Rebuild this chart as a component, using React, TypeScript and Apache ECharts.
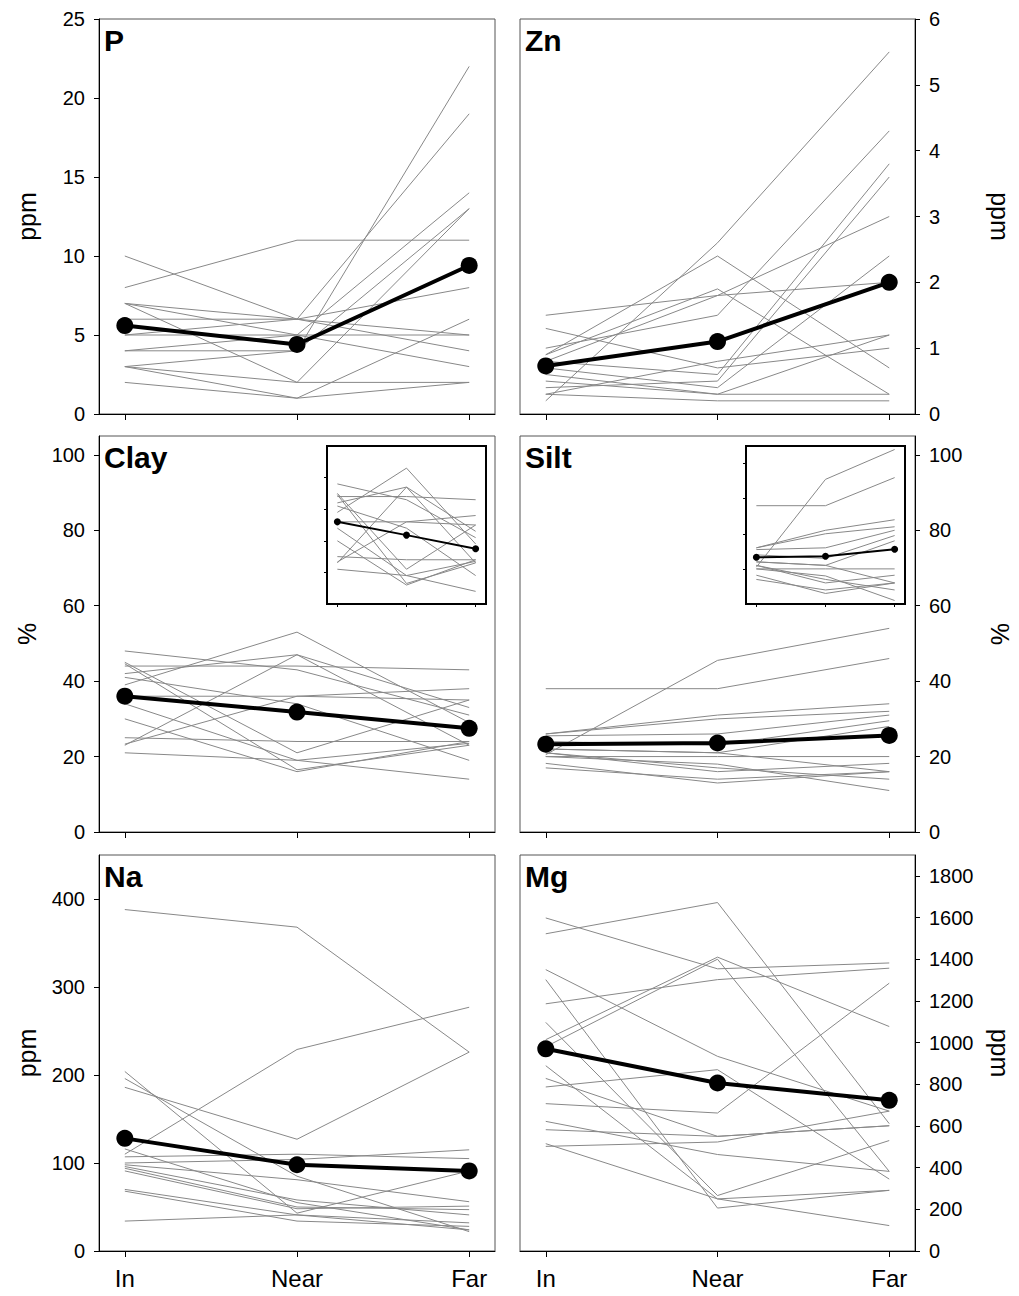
import React, { useEffect, useRef } from "react";
import * as echarts from "echarts";

// ---------- data ----------
const categories = ["In", "Near", "Far"];

const pLines = [
  [8, 11, 11],
  [10, 6, 4],
  [7, 6, 5],
  [7, 2, 2],
  [7, 5, 3],
  [6, 6, 8],
  [5, 5, 5],
  [5, 6, 19],
  [4, 4, 22],
  [4, 5, 14],
  [3, 4, 13],
  [3, 2, 13],
  [3, 1, 6],
  [2, 1, 2],
];
const pMean = [5.6, 4.4, 9.4];

const znLines = [
  [0.2, 2.6, 5.5],
  [0.9, 2.4, 0.7],
  [1.0, 1.5, 4.3],
  [1.5, 1.8, 2.0],
  [0.9, 1.9, 0.3],
  [1.3, 0.7, 1.0],
  [0.8, 1.8, 3.0],
  [0.8, 0.6, 3.8],
  [0.4, 0.5, 3.6],
  [0.6, 0.3, 1.2],
  [0.3, 0.8, 1.2],
  [0.7, 0.4, 2.4],
  [0.3, 0.2, 0.2],
  [0.5, 0.3, 0.3],
];
const znMean = [0.73, 1.1, 2.0];

const clayLines = [
  [48, 43, 31],
  [44, 44, 43],
  [39, 53, 29],
  [42, 47, 23],
  [23, 47, 33],
  [45, 21, 35],
  [44.6, 16.5, 23],
  [34, 19, 23.5],
  [30, 16, 24],
  [25, 24, 24],
  [23.3, 36, 38],
  [21, 19, 14],
  [36, 36, 35],
  [41, 34, 19],
];
const clayMean = [36, 31.8, 27.5];

const siltLines = [
  [38, 38, 46],
  [20.5, 45.5, 54],
  [26, 31, 34],
  [26, 30, 32],
  [25.5, 26, 31],
  [24, 23, 29.5],
  [22, 21, 28],
  [21, 16, 18.2],
  [20, 20, 20],
  [18.2, 13, 16],
  [17, 14, 16],
  [21, 17, 14],
  [20, 18, 11],
  [22, 21, 16],
];
const siltMean = [23.3, 23.6, 25.6];

const naLines = [
  [388, 368, 226],
  [110, 229, 277],
  [186, 127, 226],
  [204, 43, 91],
  [196, 85, 22],
  [116, 55, 24],
  [107, 110, 105],
  [100, 104, 115],
  [98, 81, 56],
  [96, 58, 41],
  [94, 50, 47],
  [91, 48, 51],
  [70, 41, 32],
  [68, 34, 28],
  [34, 41, 24],
];
const naMean = [128, 98, 91];

const mgLines = [
  [1522, 1672, 611],
  [1598, 1354, 1382],
  [1186, 1302, 1357],
  [1014, 1410, 1077],
  [980, 1400, 382],
  [1350, 934, 671],
  [1302, 206, 291],
  [1097, 266, 530],
  [889, 250, 291],
  [787, 870, 345],
  [828, 550, 601],
  [707, 662, 1285],
  [622, 463, 382],
  [582, 550, 601],
  [502, 523, 671],
  [515, 250, 122],
];
const mgMean = [970, 806, 723];

const pTicks = [0, 5, 10, 15, 20, 25];
const znTicks = [0, 1, 2, 3, 4, 5, 6];
const pctTicks = [0, 20, 40, 60, 80, 100];
const naTicks = [0, 100, 200, 300, 400];
const mgTicks = [0, 200, 400, 600, 800, 1000, 1200, 1400, 1600, 1800];
const insetTicks = [20, 30, 40, 50];

// ---------- layout / style ----------
const FONT = "'Liberation Sans', Arial, Helvetica, sans-serif";
const COLS = [
  { left: 99, width: 396 },
  { left: 520, width: 395 },
];
const ROWS = [
  { top: 19, height: 395 },
  { top: 436, height: 396 },
  { top: 855, height: 396 },
];

const panels = [
  { label: "P", lines: pLines, mean: pMean, max: 25, ticks: pTicks, name: "ppm", row: 0, col: 0 },
  { label: "Zn", lines: znLines, mean: znMean, max: 6, ticks: znTicks, name: "ppm", row: 0, col: 1 },
  { label: "Clay", lines: clayLines, mean: clayMean, max: 105, ticks: pctTicks, name: "%", row: 1, col: 0 },
  { label: "Silt", lines: siltLines, mean: siltMean, max: 105, ticks: pctTicks, name: "%", row: 1, col: 1 },
  { label: "Na", lines: naLines, mean: naMean, max: 450, ticks: naTicks, name: "ppm", row: 2, col: 0 },
  { label: "Mg", lines: mgLines, mean: mgMean, max: 1900, ticks: mgTicks, name: "ppm", row: 2, col: 1 },
];

const insets = [
  { lines: clayLines, mean: clayMean, min: 10, max: 60, left: 327, top: 446 },
  { lines: siltLines, mean: siltMean, min: 10, max: 55, left: 746, top: 446 },
];

function buildOption() {
  const grid: any[] = [];
  const xAxis: any[] = [];
  const yAxis: any[] = [];
  const series: any[] = [];
  const graphic: any[] = [];

  panels.forEach((p, i) => {
    const c = COLS[p.col];
    const r = ROWS[p.row];
    const side = p.col === 0 ? "left" : "right";
    grid.push({
      left: c.left,
      top: r.top,
      width: c.width,
      height: r.height,
      show: true,
      borderColor: "#555",
      borderWidth: 1,
      backgroundColor: "transparent",
    });
    xAxis.push({
      type: "value",
      gridIndex: i,
      min: -0.15,
      max: 2.15,
      axisLine: { show: true, onZero: false, lineStyle: { color: "#000", width: 1 } },
      axisTick: { show: true, length: 6, lineStyle: { color: "#000" }, customValues: [0, 1, 2] },
      axisLabel: {
        show: p.row === 2,
        customValues: [0, 1, 2],
        formatter: (v: number) => categories[Math.round(v)],
        fontSize: 24,
        color: "#000",
        margin: 15,
        fontFamily: FONT,
      },
      splitLine: { show: false },
    });
    yAxis.push({
      type: "value",
      gridIndex: i,
      position: side,
      min: 0,
      max: p.max,
      axisLine: { show: true, onZero: false, lineStyle: { color: "#000", width: 1 } },
      axisTick: { show: true, length: 5, lineStyle: { color: "#000" }, customValues: p.ticks },
      axisLabel: {
        customValues: p.ticks,
        formatter: (v: number) => String(v),
        fontSize: 20,
        color: "#000",
        margin: 14,
        fontFamily: FONT,
      },
      splitLine: { show: false },
      name: p.name,
      nameLocation: "middle",
      nameRotate: side === "left" ? 90 : -90,
      nameGap: side === "left" ? 60 : 72,
      nameTextStyle: { fontSize: 25, color: "#000", fontFamily: FONT },
    });
    p.lines.forEach((ln) => {
      series.push({
        type: "line",
        xAxisIndex: i,
        yAxisIndex: i,
        data: ln.map((v, j) => [j, v]),
        symbol: "none",
        silent: true,
        lineStyle: { color: "#888", width: 1 },
        z: 2,
      });
    });
    series.push({
      type: "line",
      xAxisIndex: i,
      yAxisIndex: i,
      data: p.mean.map((v, j) => [j, v]),
      symbol: "circle",
      symbolSize: 17,
      silent: true,
      lineStyle: { color: "#000", width: 4 },
      itemStyle: { color: "#000" },
      z: 5,
    });
    graphic.push({
      type: "text",
      left: c.left + 5,
      top: r.top + 6,
      style: { text: p.label, font: `bold 30px ${FONT}`, fill: "#000" },
      z: 10,
    });
  });

  insets.forEach((s, k) => {
    const gi = panels.length + k;
    grid.push({
      left: s.left,
      top: s.top,
      width: 159,
      height: 158,
      show: true,
      borderColor: "#000",
      borderWidth: 2,
      backgroundColor: "#fff",
    });
    xAxis.push({
      type: "value",
      gridIndex: gi,
      min: -0.15,
      max: 2.15,
      axisLine: { show: false, onZero: false },
      axisTick: { show: true, length: 3, lineStyle: { color: "#000" }, customValues: [0, 1, 2] },
      axisLabel: { show: false },
      splitLine: { show: false },
    });
    yAxis.push({
      type: "value",
      gridIndex: gi,
      position: "left",
      min: s.min,
      max: s.max,
      axisLine: { show: false, onZero: false },
      axisTick: { show: true, length: 3, lineStyle: { color: "#000" }, customValues: insetTicks },
      axisLabel: { show: false },
      splitLine: { show: false },
    });
    s.lines.forEach((ln) => {
      series.push({
        type: "line",
        xAxisIndex: gi,
        yAxisIndex: gi,
        data: ln.map((v, j) => [j, v]),
        symbol: "none",
        silent: true,
        lineStyle: { color: "#888", width: 1 },
        z: 12,
      });
    });
    series.push({
      type: "line",
      xAxisIndex: gi,
      yAxisIndex: gi,
      data: s.mean.map((v, j) => [j, v]),
      symbol: "circle",
      symbolSize: 7,
      silent: true,
      lineStyle: { color: "#000", width: 2 },
      itemStyle: { color: "#000" },
      z: 14,
    });
  });

  return {
    animation: false,
    backgroundColor: "#fff",
    textStyle: { fontFamily: FONT },
    grid,
    xAxis,
    yAxis,
    series,
    graphic,
  };
}

export default function App() {
  const ref = useRef<HTMLDivElement>(null);
  useEffect(() => {
    document.body.style.margin = "0";
    if (!ref.current) return;
    const chart = echarts.init(ref.current, undefined, { renderer: "svg" });
    chart.setOption(buildOption() as any);
    return () => chart.dispose();
  }, []);
  return <div ref={ref} style={{ width: 1019, height: 1296 }} />;
}
